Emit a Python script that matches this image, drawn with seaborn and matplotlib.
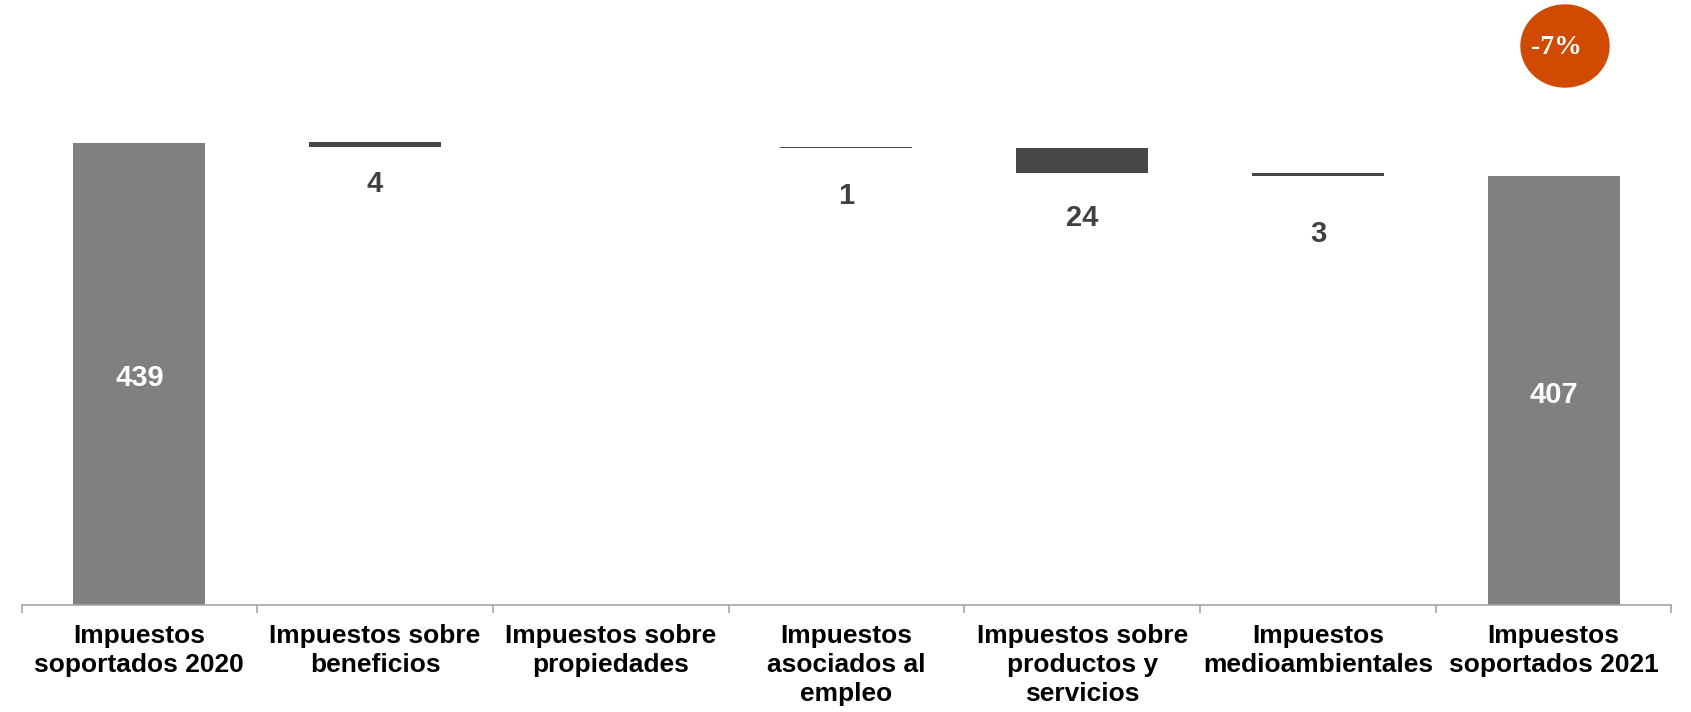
import numpy as np
import pandas as pd
import seaborn as sns
import matplotlib.pyplot as plt
from matplotlib.patches import Ellipse

# data
categories = [
    "Impuestos\nsoportados 2020",
    "Impuestos sobre\nbeneficios",
    "Impuestos sobre\npropiedades",
    "Impuestos\nasociados al\nempleo",
    "Impuestos sobre\nproductos y\nservicios",
    "Impuestos\nmedioambientales",
    "Impuestos\nsoportados 2021",
]
start_total = 439
changes = [-4, 0, -1, -24, -3]
end_total = 407
change_pct = "-7%"

# styling
total_color = "#808080"
change_color = "#474747"
label_drop = [35, 0, 46, 43, 55]  # gap under each floating bar, in data units

sns.set_theme(style="white")
plt.rcParams["font.family"] = ["Liberation Sans", "DejaVu Sans"]

# build waterfall
heights, bottoms, colors = [start_total], [0], [total_color]
level = start_total
for c in changes:
    heights.append(abs(c))
    bottoms.append(level + c if c < 0 else level)
    colors.append(change_color)
    level += c
heights.append(end_total)
bottoms.append(0)
colors.append(total_color)

df = pd.DataFrame({"cat": categories, "height": heights, "bottom": bottoms})

fig = plt.figure(figsize=(16.91, 7.12), dpi=100)
ax = fig.add_axes([21.5 / 1691, 107.5 / 712, 1650 / 1691, 604.5 / 712])

sns.barplot(data=df, x="cat", y="height", hue="cat", palette=colors,
            width=0.56, dodge=False, legend=False, linewidth=0, ax=ax)

bars = sorted(ax.patches, key=lambda p: p.get_x())
for bar, b in zip(bars, bottoms):
    bar.set_y(b)

ax.set_ylim(0, 604.5 / (462 / 439))
ax.set_xlim(-0.5, 6.5)

# value labels
ax.text(0, start_total / 2 - 4, str(start_total), ha="center", va="center",
        color="white", fontsize=21, fontweight="bold")
ax.text(6, end_total / 2 - 4, str(end_total), ha="center", va="center",
        color="white", fontsize=21, fontweight="bold")
for i, c in enumerate(changes):
    if c == 0:
        continue
    ax.text(i + 1, bottoms[i + 1] - label_drop[i], str(abs(c)), ha="center",
            va="center", color="#404040", fontsize=21, fontweight="bold")

# axes
for s in ["left", "top", "right"]:
    ax.spines[s].set_visible(False)
ax.spines["bottom"].set_color("#a6a6a6")
ax.spines["bottom"].set_linewidth(1.2)
ax.set_yticks([])
ax.set_xlabel("")
ax.set_ylabel("")
ax.set_xticks(range(len(categories)))
ax.set_xticklabels(categories, fontsize=19, fontweight="bold", color="black",
                   linespacing=1.27)
ax.set_xticks(np.arange(-0.5, 7, 1), minor=True)
ax.tick_params(axis="x", which="major", length=0, pad=14)
ax.tick_params(axis="x", which="minor", length=6, width=1.2,
               color="#a6a6a6", direction="out", bottom=True)

# change bubble
fig.patches.append(Ellipse((1565 / 1691, 666 / 712), 88 / 1691, 82 / 712,
                           transform=fig.transFigure, color="#d04a02"))
fig.text(1556 / 1691, 664 / 712, change_pct, ha="center", va="center",
         color="white", fontsize=20, fontweight="bold",
         family=["Liberation Serif", "DejaVu Serif"])

fig.savefig("out.png", dpi=100)
